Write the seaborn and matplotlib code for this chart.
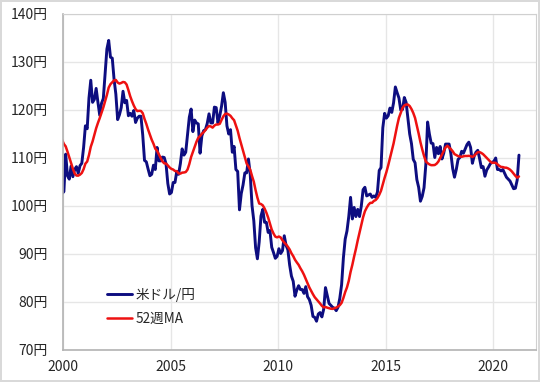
import matplotlib
matplotlib.use("Agg")
import matplotlib.pyplot as plt
import seaborn as sns
import pandas as pd
import numpy as np

# -------------------data (monthly, USD/JPY)-------------------
years = list(range(1999, 2022))

usdjpy = {
    1999: [113.3, 116.7, 119.5, 119.8, 122.0, 120.7, 119.7, 113.4, 107.0, 105.9, 104.7, 102.6],
    2000: [103.0, 110.8, 106.3, 105.6, 108.3, 106.1, 107.6, 108.2, 106.8, 108.4, 108.9, 112.2],
    2001: [116.7, 116.1, 122.5, 126.2, 121.6, 122.2, 124.5, 121.6, 118.9, 121.4, 122.4, 127.6],
    2002: [132.7, 134.5, 131.0, 130.8, 126.4, 123.3, 118.0, 119.0, 120.5, 123.9, 121.5, 122.0],
    2003: [118.8, 119.3, 118.7, 119.9, 117.4, 118.3, 118.7, 118.7, 114.8, 109.5, 109.2, 107.7],
    2004: [106.3, 106.6, 108.5, 107.6, 112.2, 109.4, 109.4, 110.2, 110.1, 108.8, 104.7, 102.5],
    2005: [102.8, 104.9, 104.9, 107.2, 106.6, 108.8, 111.9, 110.6, 111.2, 114.9, 118.5, 120.2],
    2006: [115.5, 117.9, 117.3, 117.1, 111.0, 114.6, 115.7, 115.9, 117.2, 119.2, 117.3, 117.3],
    2007: [120.6, 120.5, 117.3, 118.8, 120.8, 123.6, 121.6, 116.7, 115.0, 115.9, 111.2, 112.4],
    2008: [107.6, 107.2, 99.2, 102.6, 104.4, 106.9, 106.9, 109.8, 106.6, 100.1, 96.9, 91.3],
    2009: [89.0, 92.5, 97.9, 99.3, 96.6, 96.6, 94.5, 94.9, 91.4, 90.3, 89.1, 89.5],
    2010: [91.1, 90.1, 90.7, 93.8, 91.8, 90.9, 87.7, 85.4, 84.3, 81.2, 82.5, 83.4],
    2011: [82.6, 82.6, 81.8, 83.2, 81.1, 80.5, 79.3, 77.0, 76.8, 76.0, 77.5, 77.8],
    2012: [76.9, 78.5, 83.0, 81.4, 79.7, 79.3, 78.9, 78.7, 78.2, 78.9, 80.8, 83.6],
    2013: [89.2, 93.1, 94.8, 97.8, 101.8, 97.3, 99.7, 97.8, 99.3, 97.8, 100.0, 103.4],
    2014: [103.9, 102.1, 102.3, 102.5, 101.8, 102.1, 101.8, 102.9, 107.4, 108.0, 116.3, 119.3],
    2015: [118.3, 118.8, 120.4, 119.5, 121.5, 124.8, 123.6, 122.5, 120.0, 120.1, 122.6, 121.6],
    2016: [118.2, 115.0, 113.0, 109.7, 109.0, 105.5, 103.9, 101.0, 102.0, 103.8, 108.6, 117.5],
    2017: [115.0, 113.1, 113.0, 110.1, 112.2, 110.9, 112.4, 109.8, 111.0, 112.9, 112.9, 112.9],
    2018: [110.9, 107.8, 106.0, 107.6, 109.7, 110.1, 111.4, 111.0, 111.9, 112.8, 113.3, 112.2],
    2019: [108.9, 110.4, 111.2, 111.6, 109.9, 108.0, 108.2, 106.2, 107.5, 108.1, 108.8, 109.1],
    2020: [109.3, 110.0, 107.6, 107.6, 107.3, 107.6, 106.8, 106.0, 105.6, 105.2, 104.4, 103.6],
    2021: [103.7, 105.4, 110.6],
}

ytick_vals = [70, 80, 90, 100, 110, 120, 130, 140]
xtick_vals = [2000, 2005, 2010, 2015, 2020]

# -------------------build frame-------------------
rows = []
for y in years:
    for m, v in enumerate(usdjpy[y]):
        rows.append({"t": y + (m + 0.5) / 12, "rate": v})
df = pd.DataFrame(rows)
df["ma"] = df["rate"].rolling(12).mean()   # 52週 ~ 12ヶ月
df_plot = df[df["t"] >= 2000 - 0.05]

# -------------------plot-------------------
sns.set_style("white")
plt.rcParams['font.family'] = ['Noto Sans CJK JP', 'DejaVu Sans']

fig = plt.figure(figsize=(5.4, 3.82), dpi=100)
fig.patch.set_edgecolor("#d9d9d9")
fig.patch.set_linewidth(1.5)
ax = fig.add_axes([63 / 540, 1 - 350 / 382, (536 - 63) / 540, (350 - 14) / 382])

sns.lineplot(data=df_plot, x="t", y="rate", ax=ax, color="#0d0d80", lw=2.1, label="米ドル/円")
sns.lineplot(data=df, x="t", y="ma", ax=ax, color="#ee1111", lw=1.8, label="52週MA")

ax.set_xlim(2000, 2022)
ax.set_ylim(70, 140)
ax.set_xticks(xtick_vals)
ax.set_yticks(ytick_vals)
ax.set_yticklabels([f"{v}円" for v in ytick_vals])
ax.set_xlabel("")
ax.set_ylabel("")
ax.grid(True, color="#e6e6e6", lw=1.0)
ax.tick_params(length=0, labelsize=10)
ax.tick_params(axis="y", pad=11)
ax.tick_params(axis="x", pad=7)
for s in ["top", "right"]:
    ax.spines[s].set_color("#d0d0d0")
for s in ["left", "bottom"]:
    ax.spines[s].set_color("#b3b3b3")
    ax.spines[s].set_linewidth(1.2)

ax.legend(loc="upper left", bbox_to_anchor=(107 / 540, 1 - 288 / 382),
          bbox_transform=fig.transFigure, frameon=False, fontsize=9.8,
          borderpad=0, borderaxespad=0, handlelength=1.8, handletextpad=0.3,
          labelspacing=0.75)

fig.savefig("out.png", dpi=100)
